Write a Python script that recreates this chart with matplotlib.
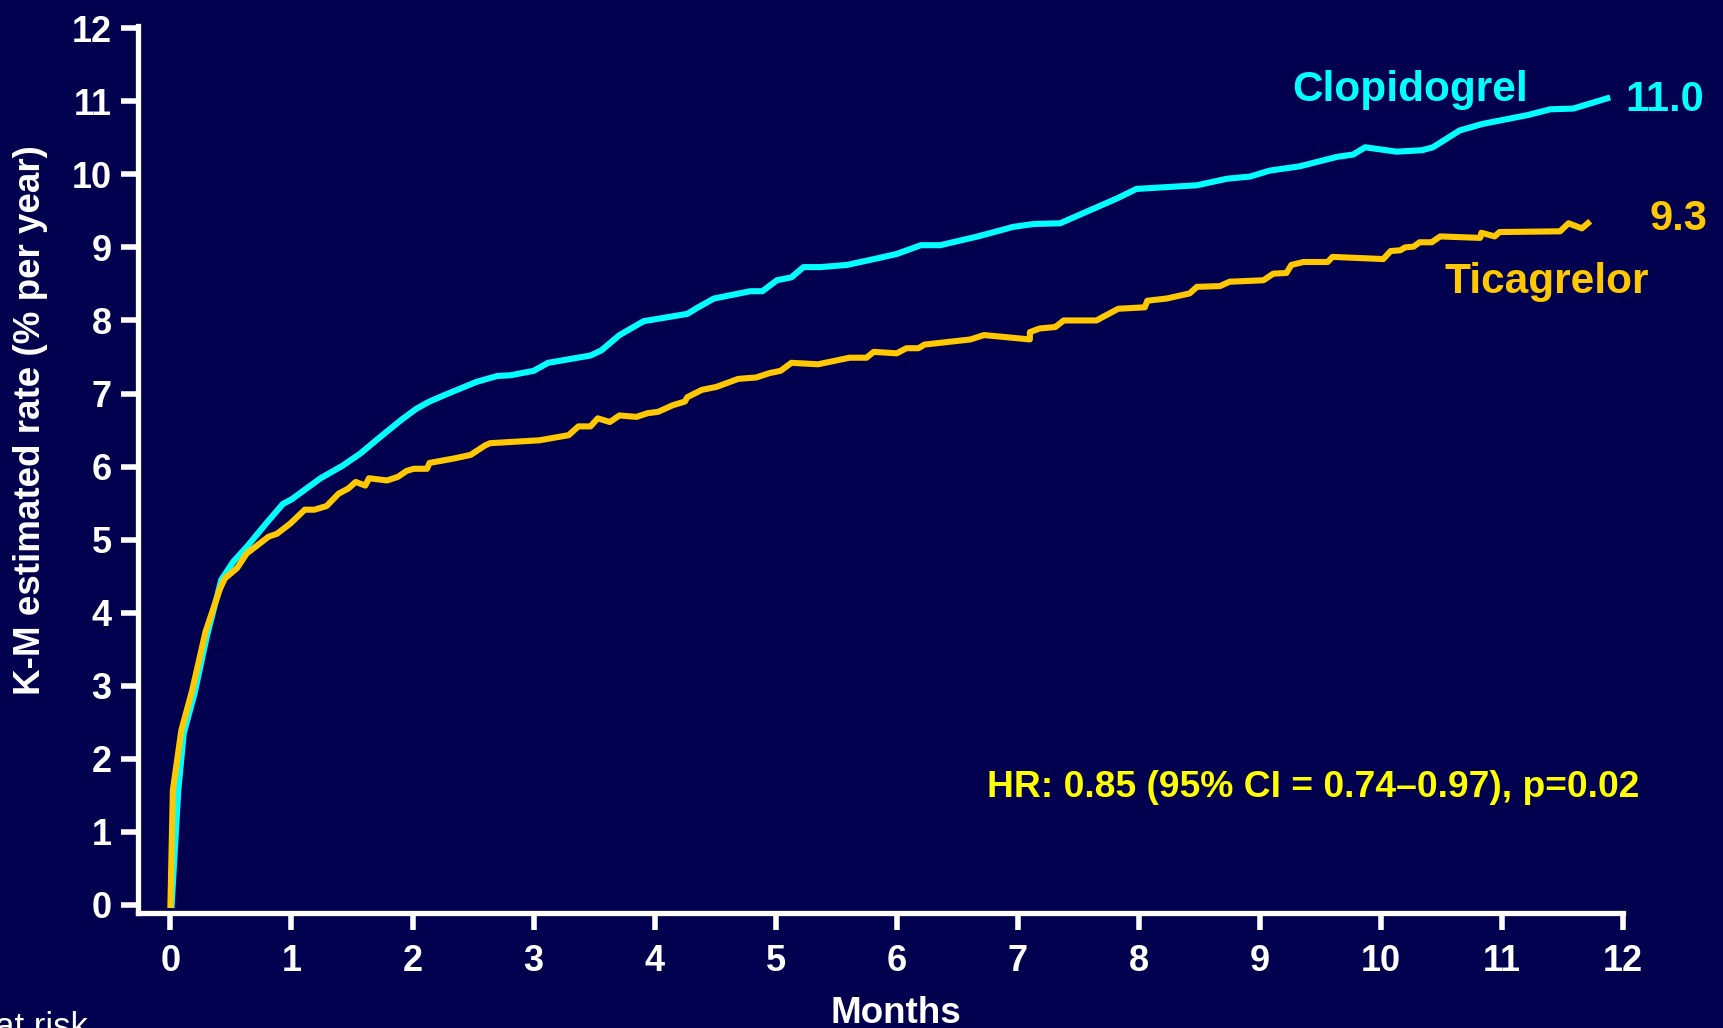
import matplotlib
matplotlib.use("Agg")
import matplotlib.pyplot as plt
from matplotlib import font_manager

# K-M curves (months, % per year)
clopi_x = [0.01, 0.065, 0.11, 0.2, 0.3, 0.42, 0.52, 0.63, 0.8, 0.93, 1.0, 1.24, 1.42, 1.57,
           1.7, 1.9, 2.03, 2.14, 2.28, 2.53, 2.7, 2.81, 3.0, 3.12, 3.47, 3.56, 3.71, 3.91,
           4.09, 4.27, 4.36, 4.49, 4.79, 4.89, 5.01, 5.13, 5.23, 5.37, 5.59, 5.84, 6.0, 6.2,
           6.36, 6.67, 6.85, 6.96, 7.13, 7.35, 7.82, 7.98, 8.48, 8.73, 8.92, 9.08, 9.33,
           9.64, 9.77, 9.87, 10.13, 10.34, 10.43, 10.65, 10.84, 11.21, 11.4, 11.59, 11.87]
clopi_y = [0, 1.57, 2.35, 2.9, 3.67, 4.45, 4.7, 4.9, 5.24, 5.49, 5.55, 5.84, 6.01, 6.18,
           6.36, 6.63, 6.79, 6.89, 6.99, 7.16, 7.24, 7.25, 7.31, 7.42, 7.52, 7.59, 7.8, 7.99,
           8.04, 8.09, 8.18, 8.3, 8.4, 8.4, 8.55, 8.59, 8.73, 8.73, 8.76, 8.85, 8.91, 9.03,
           9.03, 9.15, 9.23, 9.28, 9.32, 9.33, 9.67, 9.8, 9.85, 9.94, 9.97, 10.05, 10.11,
           10.24, 10.27, 10.37, 10.31, 10.33, 10.37, 10.6, 10.69, 10.81, 10.89, 10.9, 11.04]

tica_x = [0.0, 0.02, 0.09, 0.18, 0.29, 0.41, 0.45, 0.55, 0.63, 0.81, 0.88, 0.99, 1.11, 1.19,
          1.29, 1.39, 1.47, 1.53, 1.61, 1.64, 1.79, 1.88, 1.95, 2.01, 2.12, 2.14, 2.34, 2.48,
          2.6, 2.64, 3.05, 3.29, 3.37, 3.47, 3.53, 3.63, 3.71, 3.85, 3.94, 4.03, 4.15, 4.25,
          4.27, 4.39, 4.51, 4.69, 4.84, 4.95, 5.04, 5.13, 5.35, 5.61, 5.75, 5.81, 6.0, 6.08,
          6.18, 6.23, 6.61, 6.72, 7.1, 7.1, 7.18, 7.31, 7.38, 7.65, 7.83, 8.05, 8.07, 8.23,
          8.42, 8.48, 8.67, 8.75, 9.03, 9.11, 9.22, 9.26, 9.36, 9.56, 9.6, 10.02, 10.08,
          10.16, 10.2, 10.27, 10.32, 10.42, 10.49, 10.82, 10.83, 10.94, 10.98, 11.48, 11.55,
          11.66, 11.71]
tica_y = [0, 1.57, 2.39, 2.94, 3.74, 4.33, 4.47, 4.61, 4.81, 5.04, 5.08, 5.22, 5.41, 5.41,
          5.46, 5.63, 5.7, 5.79, 5.74, 5.84, 5.81, 5.86, 5.94, 5.97, 5.97, 6.05, 6.11, 6.16,
          6.29, 6.32, 6.36, 6.43, 6.55, 6.55, 6.66, 6.61, 6.7, 6.68, 6.73, 6.75, 6.84, 6.89,
          6.95, 7.05, 7.09, 7.2, 7.22, 7.28, 7.31, 7.42, 7.4, 7.49, 7.49, 7.57, 7.55, 7.62,
          7.62, 7.67, 7.74, 7.8, 7.74, 7.84, 7.89, 7.91, 8.0, 8.0, 8.16, 8.18, 8.27, 8.3,
          8.37, 8.46, 8.47, 8.53, 8.55, 8.64, 8.65, 8.76, 8.8, 8.8, 8.87, 8.84, 8.95,
          8.96, 9.0, 9.01, 9.07, 9.07, 9.15, 9.13, 9.2, 9.15, 9.21, 9.22, 9.33,
          9.26, 9.33]

ticks = list(range(0, 13))
clopi_label = "Clopidogrel"
tica_label = "Ticagrelor"
clopi_end = "11.0"
tica_end = "9.3"
hr_text = "HR: 0.85 (95% CI = 0.74\u20130.97), p=0.02"

BG = "#00004e"
CYAN = "#00ffff"
GOLD = "#ffc800"
YELLOW = "#ffff00"

plt.rcParams["font.family"] = ["Liberation Sans", "DejaVu Sans"]
plt.rcParams["font.weight"] = "bold"

W, H = 1724, 1028
fig = plt.figure(figsize=(W / 100, H / 100), dpi=100, facecolor=BG)


def fx(px):
    return px / W


def fy(py):
    return 1 - py / H


ax = fig.add_axes([fx(138), fy(913), fx(1623) - fx(138), fy(26) - fy(913)])
ax.set_facecolor(BG)

ax.plot(clopi_x, clopi_y, color=CYAN, lw=4.4, solid_joinstyle="round", clip_on=False, zorder=3)
ax.plot(tica_x, tica_y, color=GOLD, lw=4.4, solid_joinstyle="round", clip_on=False, zorder=4)

ax.set_xlim(-0.268, 12)
ax.set_ylim(-0.11, 12.03)
ax.set_xticks(ticks)
ax.set_yticks(ticks)

for side in ["top", "right"]:
    ax.spines[side].set_visible(False)
for side in ["left", "bottom"]:
    ax.spines[side].set_color("white")
    ax.spines[side].set_linewidth(3.8)

ax.tick_params(axis="both", colors="white", length=12, width=4, labelsize=26)
ax.tick_params(axis="y", pad=7)
ax.tick_params(axis="x", pad=10)
for lab in ax.get_xticklabels() + ax.get_yticklabels():
    lab.set_fontweight("bold")

# axis titles
fig.text(fx(31), fy(420), "K-M estimated rate (% per year)", rotation=90, color="white",
         fontsize=26.5, fontweight="bold", ha="center", va="center")
fig.text(fx(896), fy(1023), "Months", color="white", fontsize=26.5, fontweight="bold",
         ha="center", va="baseline")
fig.text(fx(88), fy(1037), "Patients at risk", color="white", fontsize=25,
         fontweight="normal", ha="right", va="baseline")

# curve labels
fig.text(fx(1410), fy(101), clopi_label, color=CYAN, fontsize=30.5, fontweight="bold",
         ha="center", va="baseline")
fig.text(fx(1625), fy(111), clopi_end, color=CYAN, fontsize=30, fontweight="bold",
         ha="left", va="baseline")
fig.text(fx(1707), fy(230), tica_end, color=GOLD, fontsize=30, fontweight="bold",
         ha="right", va="baseline")
fig.text(fx(1547), fy(293), tica_label, color=GOLD, fontsize=30.5, fontweight="bold",
         ha="center", va="baseline")

# hazard ratio, condensed font if we have one
try:
    font_manager.findfont(font_manager.FontProperties(family="Liberation Sans Narrow", weight="bold"),
                          fallback_to_default=False)
    hr_family, hr_size = ["Liberation Sans Narrow", "Liberation Sans"], 32.5
except Exception:
    hr_family, hr_size = ["Liberation Sans", "DejaVu Sans"], 26.8
fig.text(fx(987), fy(797), hr_text, color=YELLOW, fontsize=hr_size, fontweight="bold",
         family=hr_family, ha="left", va="baseline")

fig.savefig("out.png", dpi=100, facecolor=BG)
